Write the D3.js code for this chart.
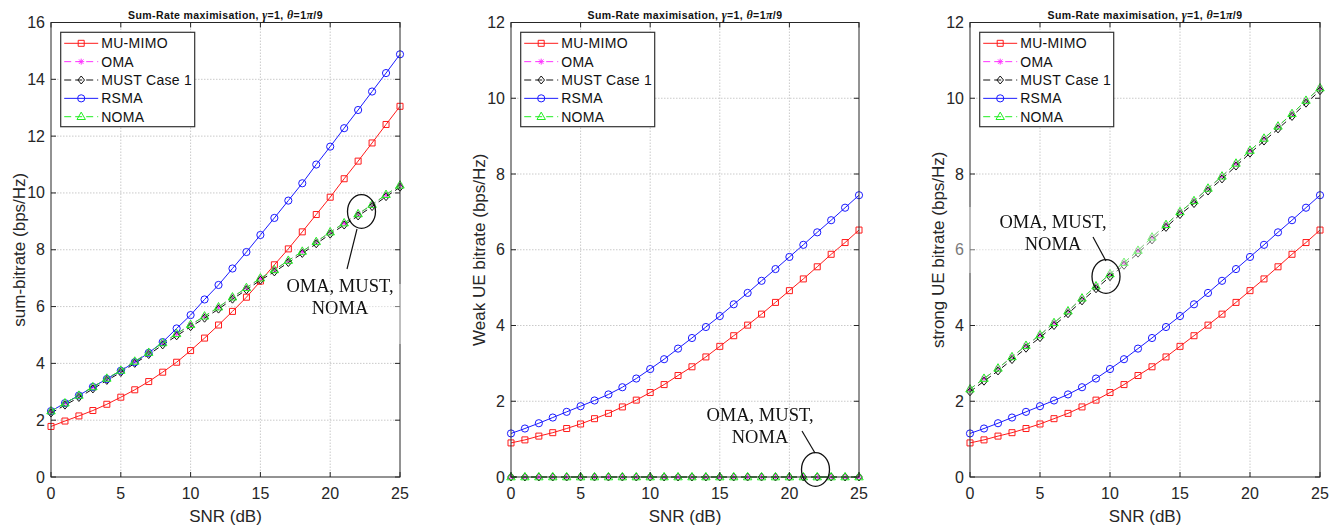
<!DOCTYPE html>
<html>
<head>
<meta charset="utf-8">
<script src="https://cdn.jsdelivr.net/npm/d3@7"></script>
<style>
  body { margin: 0; background: #fff; }
  #wrap { position: relative; width: 1334px; height: 525px; overflow: hidden; }
  #wrap svg { position: absolute; left: 0; top: 0; }
  .haze { position: absolute; }
</style>
</head>
<body>
<div id="wrap"></div>
<script>
// SNR grid (dB)
const snr = [0,1,2,3,4,5,6,7,8,9,10,11,12,13,14,15,16,17,18,19,20,21,22,23,24,25];

// Sum rate (bps/Hz)
const sumMuMimo = [1.78,1.97,2.15,2.34,2.56,2.81,3.07,3.36,3.69,4.04,4.45,4.89,5.35,5.83,6.33,6.89,7.47,8.03,8.63,9.24,9.85,10.50,11.12,11.76,12.41,13.05];
const sumOma    = [2.32,2.60,2.87,3.17,3.47,3.75,4.07,4.38,4.72,5.04,5.36,5.66,5.98,6.33,6.66,7.00,7.29,7.62,7.94,8.28,8.62,8.94,9.26,9.59,9.94,10.27];
const sumMust   = [2.25,2.53,2.80,3.10,3.40,3.68,4.00,4.31,4.65,4.97,5.29,5.59,5.91,6.26,6.59,6.93,7.22,7.55,7.87,8.21,8.55,8.87,9.19,9.52,9.87,10.20];
const sumRsma   = [2.32,2.60,2.87,3.17,3.45,3.74,4.04,4.37,4.75,5.23,5.70,6.25,6.76,7.34,7.92,8.52,9.12,9.73,10.34,11.00,11.63,12.28,12.92,13.57,14.22,14.88];
const sumNoma   = [2.32,2.60,2.87,3.17,3.47,3.75,4.07,4.38,4.72,5.04,5.36,5.66,5.98,6.33,6.66,7.00,7.29,7.62,7.94,8.28,8.62,8.94,9.26,9.59,9.94,10.27];

// Weak UE rate (bps/Hz)
const weakMuMimo = [0.90,0.98,1.08,1.17,1.28,1.40,1.54,1.68,1.85,2.03,2.23,2.44,2.68,2.91,3.17,3.45,3.73,4.01,4.30,4.61,4.92,5.23,5.55,5.88,6.19,6.52];
const weakOma    = [0,0,0,0,0,0,0,0,0,0,0,0,0,0,0,0,0,0,0,0,0,0,0,0,0,0];
const weakMust   = [0,0,0,0,0,0,0,0,0,0,0,0,0,0,0,0,0,0,0,0,0,0,0,0,0,0];
const weakRsma   = [1.15,1.28,1.42,1.57,1.72,1.87,2.02,2.18,2.37,2.60,2.85,3.11,3.39,3.67,3.96,4.25,4.56,4.86,5.18,5.49,5.81,6.13,6.46,6.78,7.11,7.44];
const weakNoma   = [0,0,0,0,0,0,0,0,0,0,0,0,0,0,0,0,0,0,0,0,0,0,0,0,0,0];

// Strong UE rate (bps/Hz)
const strongMuMimo = [0.90,0.98,1.08,1.17,1.28,1.40,1.54,1.68,1.85,2.03,2.23,2.44,2.68,2.91,3.17,3.45,3.73,4.01,4.30,4.61,4.92,5.23,5.55,5.88,6.19,6.52];
const strongOma    = [2.32,2.60,2.87,3.17,3.47,3.75,4.07,4.38,4.72,5.04,5.36,5.66,5.98,6.33,6.66,7.00,7.29,7.62,7.94,8.28,8.62,8.94,9.26,9.59,9.94,10.27];
const strongMust   = [2.25,2.53,2.80,3.10,3.40,3.68,4.00,4.31,4.65,4.97,5.29,5.59,5.91,6.26,6.59,6.93,7.22,7.55,7.87,8.21,8.55,8.87,9.19,9.52,9.87,10.20];
const strongRsma   = [1.15,1.28,1.42,1.57,1.72,1.87,2.02,2.18,2.37,2.60,2.85,3.11,3.39,3.67,3.96,4.25,4.56,4.86,5.18,5.49,5.81,6.13,6.46,6.78,7.11,7.44];
const strongNoma   = [2.32,2.60,2.87,3.17,3.47,3.75,4.07,4.38,4.72,5.04,5.36,5.66,5.98,6.33,6.66,7.00,7.29,7.62,7.94,8.28,8.62,8.94,9.26,9.59,9.94,10.27];

// Legend names and tick labels
const schemeNames = ["MU-MIMO", "OMA", "MUST Case 1", "RSMA", "NOMA"];
const xTicks = [0, 5, 10, 15, 20, 25];
const yTicksSum = [0, 2, 4, 6, 8, 10, 12, 14, 16];
const yTicksUe = [0, 2, 4, 6, 8, 10, 12];
const yLabels = ["sum-bitrate (bps/Hz)", "Weak UE bitrate (bps/Hz)", "strong UE bitrate (bps/Hz)"];
const xLabel = "SNR (dB)";
const noteLines = ["OMA, MUST,", "NOMA"];

// ---- styling of each scheme ----
const styles = [
  { color: "#ff1a1a", dash: null,  marker: "square" },
  { color: "#ff33ff", dash: "6,4", marker: "star" },
  { color: "#111111", dash: "6,4", marker: "diamond" },
  { color: "#1a1aff", dash: null,  marker: "circle" },
  { color: "#22ee22", dash: "6,4", marker: "triangle" }
];
const markerPath = {
  square:   "M-3,-3H3V3H-3Z",
  diamond:  "M0,-4L3.3,0L0,4L-3.3,0Z",
  triangle: "M0,-4.6L4.2,2.8L-4.2,2.8Z",
  star:     "M-3,0H3M0,-3V3M-2.2,-2.2L2.2,2.2M-2.2,2.2L2.2,-2.2"
};

const panels = [
  { left: 51,  right: 400,  yMax: 16, yTicks: yTicksSum, series: [sumMuMimo, sumOma, sumMust, sumRsma, sumNoma],
    labelX: 19, note: { tx: 340, ty: 292, lx1: 357, ly1: 229, lx2: 347, ly2: 269, cx: 361.5, cy: 211.5 } },
  { left: 511, right: 859,  yMax: 12, yTicks: yTicksUe,  series: [weakMuMimo, weakOma, weakMust, weakRsma, weakNoma],
    labelX: 479, note: { tx: 760, ty: 421, lx1: 802, ly1: 431, lx2: 815, ly2: 453, cx: 815.5, cy: 469.5 } },
  { left: 970, right: 1320, yMax: 12, yTicks: yTicksUe,  series: [strongMuMimo, strongOma, strongMust, strongRsma, strongNoma],
    labelX: 938, note: { tx: 1053, ty: 228, lx1: 1093, ly1: 237, lx2: 1106, ly2: 261, cx: 1106, cy: 276.5 } }
];
const plotTop = 22.5, plotBottom = 477;
const W = 1334, H = 525;
const sans = "'Liberation Sans', Arial, sans-serif";
const serif = "'Liberation Serif', 'Times New Roman', serif";
const axisInk = "#262626";

const wrap = d3.select("#wrap");
const svg = wrap.append("svg").attr("width", W).attr("height", H);

function drawMarker(sel, type, cx, cy) {
  if (type === "circle") {
    sel.append("circle").attr("cx", cx).attr("cy", cy).attr("r", 3.6);
  } else {
    sel.append("path").attr("d", markerPath[type]).attr("transform", `translate(${cx},${cy})`);
  }
}

panels.forEach((p, pi) => {
  const x = d3.scaleLinear().domain([0, 25]).range([p.left, p.right]);
  const y = d3.scaleLinear().domain([0, p.yMax]).range([plotBottom, plotTop]);
  const g = svg.append("g");

  // white plot area
  g.append("rect").attr("x", p.left).attr("y", plotTop).attr("width", p.right - p.left)
    .attr("height", plotBottom - plotTop).attr("fill", "#fff");

  // dotted grid
  const grid = g.append("g").attr("stroke", "#bdbdbd").attr("stroke-width", 0.8).attr("stroke-dasharray", "1.5,1.5");
  xTicks.slice(1, -1).forEach(t => grid.append("line").attr("x1", x(t)).attr("x2", x(t)).attr("y1", plotTop).attr("y2", plotBottom));
  p.yTicks.slice(1, -1).forEach(t => grid.append("line").attr("x1", p.left).attr("x2", p.right).attr("y1", y(t)).attr("y2", y(t)));

  // series lines and markers, in plotting order
  p.series.forEach((vals, si) => {
    const st = styles[si];
    const pts = snr.map((s, i) => [s, vals[i]]);
    const line = d3.line().x(d => x(d[0])).y(d => y(d[1]));
    g.append("path").attr("d", line(pts)).attr("fill", "none").attr("stroke", st.color)
      .attr("stroke-width", 1).attr("stroke-dasharray", st.dash);
    const mk = g.append("g").attr("fill", "none").attr("stroke", st.color).attr("stroke-width", 1);
    pts.forEach(d => drawMarker(mk, st.marker, x(d[0]), y(d[1])));
  });

  // axes box with inward ticks on all sides
  const ax = g.append("g").attr("stroke", axisInk).attr("stroke-width", 1).attr("fill", "none");
  ax.append("rect").attr("x", p.left).attr("y", plotTop).attr("width", p.right - p.left).attr("height", plotBottom - plotTop);
  xTicks.forEach(t => {
    ax.append("line").attr("x1", x(t)).attr("x2", x(t)).attr("y1", plotBottom).attr("y2", plotBottom - 5);
    ax.append("line").attr("x1", x(t)).attr("x2", x(t)).attr("y1", plotTop).attr("y2", plotTop + 5);
  });
  p.yTicks.forEach(t => {
    ax.append("line").attr("x1", p.left).attr("x2", p.left + 5).attr("y1", y(t)).attr("y2", y(t));
    ax.append("line").attr("x1", p.right).attr("x2", p.right - 5).attr("y1", y(t)).attr("y2", y(t));
  });

  // tick labels
  const tl = g.append("g").attr("font-family", sans).attr("font-size", 16).attr("fill", axisInk);
  xTicks.forEach(t => tl.append("text").attr("x", x(t)).attr("y", 499).attr("text-anchor", "middle").text(t));
  p.yTicks.forEach(t => tl.append("text").attr("x", p.left - 6).attr("y", y(t) + 5.5).attr("text-anchor", "end").text(t));

  // axis labels
  g.append("text").attr("x", (p.left + p.right) / 2).attr("y", 522).attr("text-anchor", "middle")
    .attr("font-family", sans).attr("font-size", 17).attr("fill", axisInk).text(xLabel);
  g.append("text").attr("transform", `translate(${p.labelX},${(plotTop + plotBottom) / 2}) rotate(-90)`)
    .attr("text-anchor", "middle").attr("dominant-baseline", "central")
    .attr("font-family", sans).attr("font-size", 17).attr("fill", axisInk).text(yLabels[pi]);

  // title
  const ti = g.append("text").attr("x", (p.left + p.right) / 2).attr("y", 18.5).attr("text-anchor", "middle")
    .attr("font-family", sans).attr("font-size", 10.5).attr("font-weight", "bold").attr("letter-spacing", 0.4).attr("fill", "#111");
  ti.append("tspan").text("Sum-Rate maximisation, ");
  ti.append("tspan").attr("font-family", serif).attr("font-style", "italic").attr("font-size", 12).text("γ");
  ti.append("tspan").text("=1, ");
  ti.append("tspan").attr("font-family", serif).attr("font-style", "italic").attr("font-size", 12).text("θ");
  ti.append("tspan").text("=1");
  ti.append("tspan").attr("font-family", serif).attr("font-style", "italic").attr("font-size", 12).text("π");
  ti.append("tspan").text("/9");

  // legend
  const lg = g.append("g");
  const lx = p.left + 9.7, ly = 32.3;
  lg.append("rect").attr("x", lx).attr("y", ly).attr("width", 134).attr("height", 94.4)
    .attr("fill", "#fff").attr("stroke", "#333").attr("stroke-width", 1.2);
  schemeNames.forEach((name, i) => {
    const st = styles[i];
    const ey = ly + 11 + i * 18.35;
    lg.append("line").attr("x1", lx + 3.5).attr("x2", lx + 37.5).attr("y1", ey).attr("y2", ey)
      .attr("stroke", st.color).attr("stroke-width", 1).attr("stroke-dasharray", st.dash ? "7,4" : null);
    const mk = lg.append("g").attr("fill", "none").attr("stroke", st.color).attr("stroke-width", 1);
    drawMarker(mk, st.marker, lx + 20.5, ey);
    lg.append("text").attr("x", lx + 40.5).attr("y", ey + 5).attr("font-family", sans).attr("font-size", 14)
      .attr("letter-spacing", 0.3).attr("fill", "#111").text(name);
  });
});

// faded backgrounds under the call-out text
[{ x: 262, y: 284, w: 141, h: 60, blur: 0, a: 0.4 }, { x: 950, y: 207, w: 212, h: 66, blur: 0.7, a: 0.38 }].forEach(b => {
  wrap.append("div").attr("class", "haze")
    .style("left", b.x + "px").style("top", b.y + "px").style("width", b.w + "px").style("height", b.h + "px")
    .style("backdrop-filter", b.blur ? `blur(${b.blur}px)` : "none")
    .style("background", `rgba(255,255,255,${b.a})`);
});

// call-outs drawn above everything
const over = wrap.append("svg").attr("width", W).attr("height", H);
panels.forEach(p => {
  const n = p.note;
  const t = over.append("text").attr("text-anchor", "middle").attr("font-family", serif)
    .attr("font-size", 18.5).attr("fill", "#111");
  noteLines.forEach((s, i) => t.append("tspan").attr("x", n.tx).attr("y", n.ty + i * 21.5).text(s));
  over.append("line").attr("x1", n.lx1).attr("y1", n.ly1).attr("x2", n.lx2).attr("y2", n.ly2)
    .attr("stroke", "#111").attr("stroke-width", 1.2);
  over.append("ellipse").attr("cx", n.cx).attr("cy", n.cy).attr("rx", 14).attr("ry", 16.8)
    .attr("fill", "none").attr("stroke", "#111").attr("stroke-width", 1.3);
});
</script>
</body>
</html>
